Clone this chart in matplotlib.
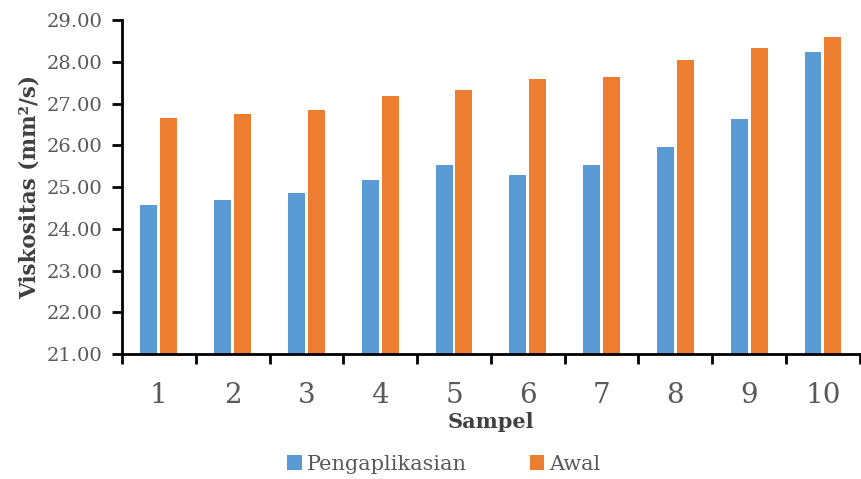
import numpy as np
import matplotlib.pyplot as plt
from matplotlib.ticker import FixedLocator, NullFormatter

# viscosity per sample, before (awal) and after application
sampel = ['1', '2', '3', '4', '5', '6', '7', '8', '9', '10']
pengaplikasian = [24.57, 24.69, 24.86, 25.17, 25.53, 25.29, 25.53, 25.96, 26.63, 28.23]
awal = [26.65, 26.75, 26.84, 27.18, 27.32, 27.59, 27.63, 28.04, 28.33, 28.59]

blue = '#5b9bd5'
orange = '#ed7d31'
grey = '#595959'
serif = ['DejaVu Serif']

fig = plt.figure(figsize=(8.62, 4.79), dpi=100)
ax = fig.add_axes([0.1415, 0.261, 0.856, 0.697])

x = np.arange(len(sampel))
w = 0.23
gap = 0.02
ax.bar(x - w / 2 - gap, pengaplikasian, width=w, color=blue, label='Pengaplikasian')
ax.bar(x + w / 2 + gap, awal, width=w, color=orange, label='Awal')

ax.set_xlim(-0.5, len(sampel) - 0.5)
ax.set_ylim(21, 29)
ax.set_yticks(np.arange(21, 29.5, 1))
ax.set_yticklabels([f'{v:.2f}' for v in np.arange(21, 29.5, 1)])

# category labels in the middle, ticks on the boundaries
ax.set_xticks(x)
ax.set_xticklabels(sampel)
ax.tick_params(axis='x', which='major', length=0, pad=20, labelsize=20, labelcolor=grey)
ax.xaxis.set_minor_locator(FixedLocator(np.arange(-0.5, len(sampel), 1)))
ax.xaxis.set_minor_formatter(NullFormatter())
ax.tick_params(axis='x', which='minor', length=7, width=2, direction='out')
ax.tick_params(axis='y', length=7, width=2, direction='out', labelsize=14, labelcolor=grey, pad=7)
for lbl in ax.get_xticklabels() + ax.get_yticklabels():
    lbl.set_family(serif)

for side in ['top', 'right']:
    ax.spines[side].set_visible(False)
for side in ['left', 'bottom']:
    ax.spines[side].set_linewidth(2)

ax.set_ylabel('Viskositas (mm²/s)', family=serif, fontsize=15.5, fontweight='bold',
              color='#404040', labelpad=4)
ax.set_xlabel('Sampel', family=serif, fontsize=15, fontweight='bold',
              color='#404040', labelpad=2)

fig.legend(loc='lower center', bbox_to_anchor=(0.515, -0.028), ncol=2, frameon=False,
           prop={'family': serif, 'size': 15},
           labelcolor=grey, handlelength=0.7, handleheight=0.7, handletextpad=0.25,
           columnspacing=3.0)

fig.savefig('out.png', dpi=100, facecolor='white')
